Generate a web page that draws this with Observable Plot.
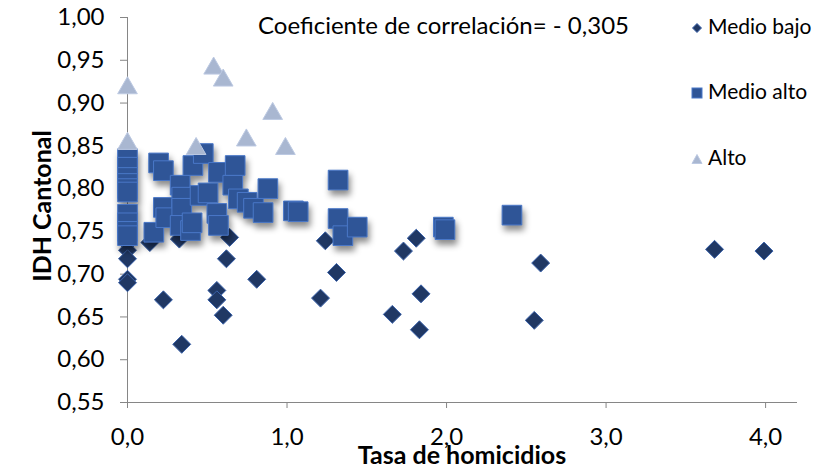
<!DOCTYPE html>
<html><head><meta charset="utf-8">
<script src="https://cdn.jsdelivr.net/npm/d3@7"></script>
<script src="https://cdn.jsdelivr.net/npm/@observablehq/plot@0.6"></script>
<style>
body{margin:0;background:#fff;}
#wrap{position:relative;width:819px;height:469px;font-family:Lato,sans-serif;overflow:hidden;}
#wrap > svg{position:absolute;left:0;top:0;}
.t{position:absolute;white-space:nowrap;color:#000;line-height:1;}
.lg{position:absolute;}
</style></head><body><div id="wrap"></div>
<script>
// Medio bajo (diamonds)
const medioBajoX=[0,0,0,0,0,0.14,0.225,0.34,0.325,0.64,0.62,0.56,0.56,0.60,0.81,1.24,1.31,1.21,1.73,1.81,1.84,1.66,1.83,2.59,2.55,3.68,3.99];
const medioBajoY=[0.736,0.728,0.718,0.694,0.690,0.737,0.670,0.618,0.741,0.743,0.718,0.681,0.670,0.652,0.694,0.739,0.702,0.672,0.727,0.742,0.677,0.653,0.635,0.713,0.646,0.729,0.727];
// Medio alto (squares)
const medioAltoX=[0,0,0,0,0,0,0,0,0,0,0.165,0.195,0.225,0.225,0.24,0.33,0.34,0.34,0.33,0.395,0.405,0.41,0.475,0.455,0.505,0.56,0.57,0.57,0.66,0.675,0.695,0.75,0.79,0.85,0.88,1.04,1.07,1.32,1.32,1.35,1.44,1.98,1.99,2.41];
const medioAltoY=[0.835,0.825,0.813,0.806,0.800,0.796,0.770,0.760,0.750,0.745,0.749,0.830,0.821,0.778,0.766,0.804,0.790,0.777,0.757,0.751,0.760,0.827,0.841,0.792,0.795,0.771,0.757,0.819,0.804,0.827,0.788,0.784,0.777,0.772,0.800,0.774,0.773,0.810,0.765,0.745,0.755,0.755,0.752,0.769];
// Alto (triangles)
const altoX=[0,0,0.54,0.60,0.91,0.745,0.99,0.43];
const altoY=[0.921,0.856,0.944,0.930,0.891,0.860,0.850,0.850];

const xTicks=[0,1,2,3,4];
const yTicks=[0.55,0.60,0.65,0.70,0.75,0.80,0.85,0.90,0.95,1.00];
const seriesNames=["Medio bajo","Medio alto","Alto"];
const annotation="Coeficiente de correlación= - 0,305";
const xTitle="Tasa de homicidios";
const yTitle="IDH Cantonal";

const toRows=(xs,ys)=>xs.map((x,i)=>({x,y:ys[i]}));
const bajo=toRows(medioBajoX,medioBajoY);
const altoM=toRows(medioAltoX,medioAltoY);
const alto=toRows(altoX,altoY);
const comma=s=>s.replace(".",",");
const fx=d=>comma(d3.format(".1f")(d));
const fy=d=>comma(d3.format(".2f")(d));

const chart=Plot.plot({
  width:819,height:469,marginLeft:127,marginRight:22,marginTop:17,marginBottom:67,
  style:{fontFamily:"Lato, sans-serif",fontSize:"24px",color:"#000",background:"transparent",overflow:"visible"},
  x:{domain:[0,4.2]},
  y:{domain:[0.55,1.0]},
  marks:[
    Plot.axisX({ticks:xTicks,tickFormat:fx,tickSize:6,tickPadding:19,stroke:"#868686",fill:"#000",label:null}),
    Plot.axisY({ticks:yTicks,tickFormat:fy,tickSize:7,tickPadding:16,stroke:"#868686",fill:"#000",label:null}),
    Plot.ruleY([0.55],{stroke:"#868686"}),
    Plot.ruleX([0],{stroke:"#868686"}),
    Plot.dot(bajo,{x:"x",y:"y",symbol:"diamond2",r:8.1,fill:"#203864",stroke:"#3A62AA",strokeWidth:1}),
    Plot.dot(altoM,{x:"x",y:"y",symbol:"square",r:11.1,fill:"#2F5597",stroke:"#4A78C8",strokeWidth:1}),
    Plot.dot(alto,{x:"x",y:"y",symbol:"triangle",r:7.3,dy:3,fill:"#A9B7D1",stroke:"#BCC9E2",strokeWidth:1})
  ]
});
const wrap=document.getElementById("wrap");
wrap.appendChild(chart);
const dots=chart.querySelectorAll('g[aria-label="dot"]');
if(dots[1]) dots[1].style.filter="drop-shadow(2px 5px 3px rgba(0,0,0,0.45))";

function addText(txt,css){const d=document.createElement("div");d.className="t";d.textContent=txt;Object.assign(d.style,css);wrap.appendChild(d);return d;}
addText(annotation,{left:"258px",top:"13px",fontSize:"24px"});
addText(xTitle,{left:"462px",top:"442px",fontSize:"25px",fontWeight:"bold",transform:"translateX(-50%)"});
addText(yTitle,{left:"41px",top:"206px",fontSize:"25px",fontWeight:"bold",transform:"translate(-50%,-50%) rotate(-90deg)"});

// legend
const legendSym=[
  '<svg width="14" height="14"><path d="M7,2.5L11.5,7L7,11.5L2.5,7Z" fill="#203864" stroke="#3A62AA"/></svg>',
  '<svg width="14" height="14"><rect x="2" y="2" width="10" height="10" fill="#2F5597" stroke="#4A78C8"/></svg>',
  '<svg width="14" height="14"><path d="M7,2.5L12,11.5L2,11.5Z" fill="#A9B7D1" stroke="#BCC9E2"/></svg>'
];
const legendY=[26,91,157];
seriesNames.forEach((n,i)=>{
  const s=document.createElement("div");s.className="lg";s.innerHTML=legendSym[i];
  Object.assign(s.style,{left:"690px",top:(legendY[i]-7)+"px",width:"14px",height:"14px"});
  wrap.appendChild(s);
  addText(n,{left:"708px",top:(legendY[i]-11)+"px",fontSize:"21px"});
});
</script></body></html>
